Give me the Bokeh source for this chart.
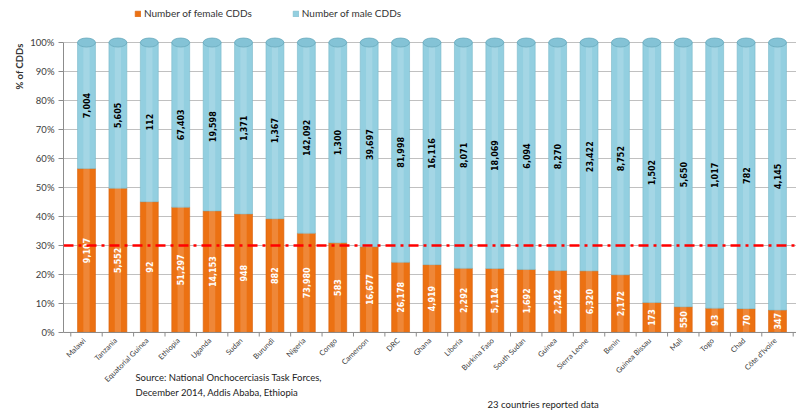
import math
from bokeh.plotting import figure
from bokeh.models import (ColumnDataSource, Range1d, FixedTicker, NumeralTickFormatter,
                          Span, Label, Legend, LegendItem, Title)
from bokeh.core.properties import value
from bokeh.embed import file_html
from bokeh.resources import INLINE

countries = ["Malawi", "Tanzania", "Equatorial Guinea", "Ethiopia", "Uganda", "Sudan",
             "Burundi", "Nigeria", "Congo", "Cameroon", "DRC", "Ghana", "Liberia",
             "Burkina Faso", "South Sudan", "Guinea", "Sierra Leone", "Benin",
             "Guinea Bissau", "Mali", "Togo", "Chad", "Côte d'Ivoire"]
female = [9107, 5552, 92, 51297, 14153, 948, 882, 73980, 583, 16677, 26178, 4919, 2292,
          5114, 1692, 2242, 6320, 2172, 173, 550, 93, 70, 347]
male = [7004, 5605, 112, 67403, 19598, 1371, 1367, 142092, 1300, 39697, 81998, 16116, 8071,
        18069, 6094, 8270, 23422, 8752, 1502, 5650, 1017, 782, 4145]
threshold = 0.30
y_ticks = [0, 0.1, 0.2, 0.3, 0.4, 0.5, 0.6, 0.7, 0.8, 0.9, 1.0]

idx = list(range(len(countries)))
fshare = [f / (f + m) for f, m in zip(female, male)]
source = ColumnDataSource(dict(
    x=idx,
    name=countries,
    fshare=fshare,
    one=[1.0] * len(idx),
    zero=[0.0] * len(idx),
    fmid=[s / 2 for s in fshare],
    mmid=[(1 + s) / 2 for s in fshare],
    ftxt=[f"{v:,}" for v in female],
    mtxt=[f"{v:,}" for v in male],
))
bounds = ColumnDataSource(dict(b=[i - 0.5 for i in idx] + [idx[-1] + 0.5]))

ORANGE = "#EC7112"
BLUE = "#93CFE0"
GREY = "#8C8C8C"
FONT = "Lato"

p = figure(width=796, height=414, output_backend="svg", toolbar_location=None,
           x_range=Range1d(-0.732, 22.605), y_range=Range1d(-0.283, 1.145),
           x_axis_type=None,
           min_border_left=63, min_border_right=0, min_border_top=0, min_border_bottom=0)
p.outline_line_color = None
p.background_fill_color = "white"

bw = 0.57
rf = p.vbar(x="x", bottom=0, top="fshare", width=bw, source=source,
            fill_color=ORANGE, line_color="#D8600A", line_width=0.6)
rm = p.vbar(x="x", bottom="fshare", top="one", width=bw, source=source,
            fill_color=BLUE, line_color="#79B8CA", line_width=0.6)
# cylinder look: soft highlight band and top caps
p.vbar(x="x", bottom=0, top="one", width=bw * 0.35, source=source,
       fill_color="white", fill_alpha=0.16, line_color=None)
p.ellipse(x="x", y="one", width=bw, height=9, height_units="screen", source=source,
          fill_color="#84C3D6", line_color="#6AAABD", line_width=0.8)

p.text(x="x", y="fmid", text="ftxt", source=source, angle=math.pi / 2,
       text_align="center", text_baseline="middle", text_color="white",
       text_font=value("DejaVu Sans"), text_font_style="bold", text_font_size="8px")
p.text(x="x", y="mmid", text="mtxt", source=source, angle=math.pi / 2,
       text_align="center", text_baseline="middle", text_color="black",
       text_font=value("DejaVu Sans"), text_font_style="bold", text_font_size="8px")

# x axis: floor line, boundary ticks, rotated category labels
p.add_layout(Span(location=0, dimension="width", line_color=GREY, line_width=1))
p.segment(x0="b", y0=0, x1="b", y1=-0.014, source=bounds, line_color=GREY, line_width=1)
p.text(x="x", y="zero", text="name", source=source, angle=math.pi / 4,
       x_offset=-2, y_offset=7, text_align="right", text_baseline="middle",
       text_color="#404040", text_font=value(FONT), text_font_size="7.5px")

p.add_layout(Span(location=threshold, dimension="width", line_color="#FF0000",
                  line_width=2.5, line_dash="10 5 3 5"))

# y axis
p.xgrid.grid_line_color = None
p.ygrid.grid_line_color = "#C0C0C0"
p.ygrid.ticker = FixedTicker(ticks=y_ticks)

p.yaxis.bounds = (0, 1)
p.yaxis.ticker = FixedTicker(ticks=y_ticks)
p.yaxis.formatter = NumeralTickFormatter(format="0%")
p.yaxis.axis_line_color = GREY
p.yaxis.major_tick_line_color = GREY
p.yaxis.major_tick_out = 5
p.yaxis.major_tick_in = 0
p.yaxis.minor_tick_line_color = None
p.yaxis.major_label_text_font = FONT
p.yaxis.major_label_text_font_size = "9.5px"
p.yaxis.major_label_text_color = "#404040"
p.yaxis.major_label_standoff = 4

# y-axis title near the top
p.add_layout(Title(text="% of CDDs", align="left", offset=325, standoff=6,
                   text_font=FONT, text_font_style="bold", text_font_size="9.5px",
                   text_color="#333333"), "left")

# footer texts
for x, y, t in [(1.56, -0.155, "Source: National Onchocerciasis Task Forces,"),
                (1.56, -0.207, "December 2014,  Addis Ababa, Ethiopia"),
                (12.77, -0.248, "23 countries reported data")]:
    p.add_layout(Label(x=x, y=y, text=t, text_baseline="middle", text_font=FONT,
                       text_font_size="9.5px", text_color="#222222"))

legend = Legend(items=[LegendItem(label="Number of female CDDs", renderers=[rf]),
                       LegendItem(label="Number of male CDDs", renderers=[rm])],
                location=(71, 394), orientation="horizontal", padding=0, margin=0,
                glyph_width=7, glyph_height=7, label_standoff=3, spacing=40,
                label_height=14, border_line_color=None, background_fill_alpha=0,
                label_text_font=FONT, label_text_font_size="10px",
                label_text_color="#333333")
p.add_layout(legend, "center")

open("out.html", "w").write(file_html(p, INLINE))
